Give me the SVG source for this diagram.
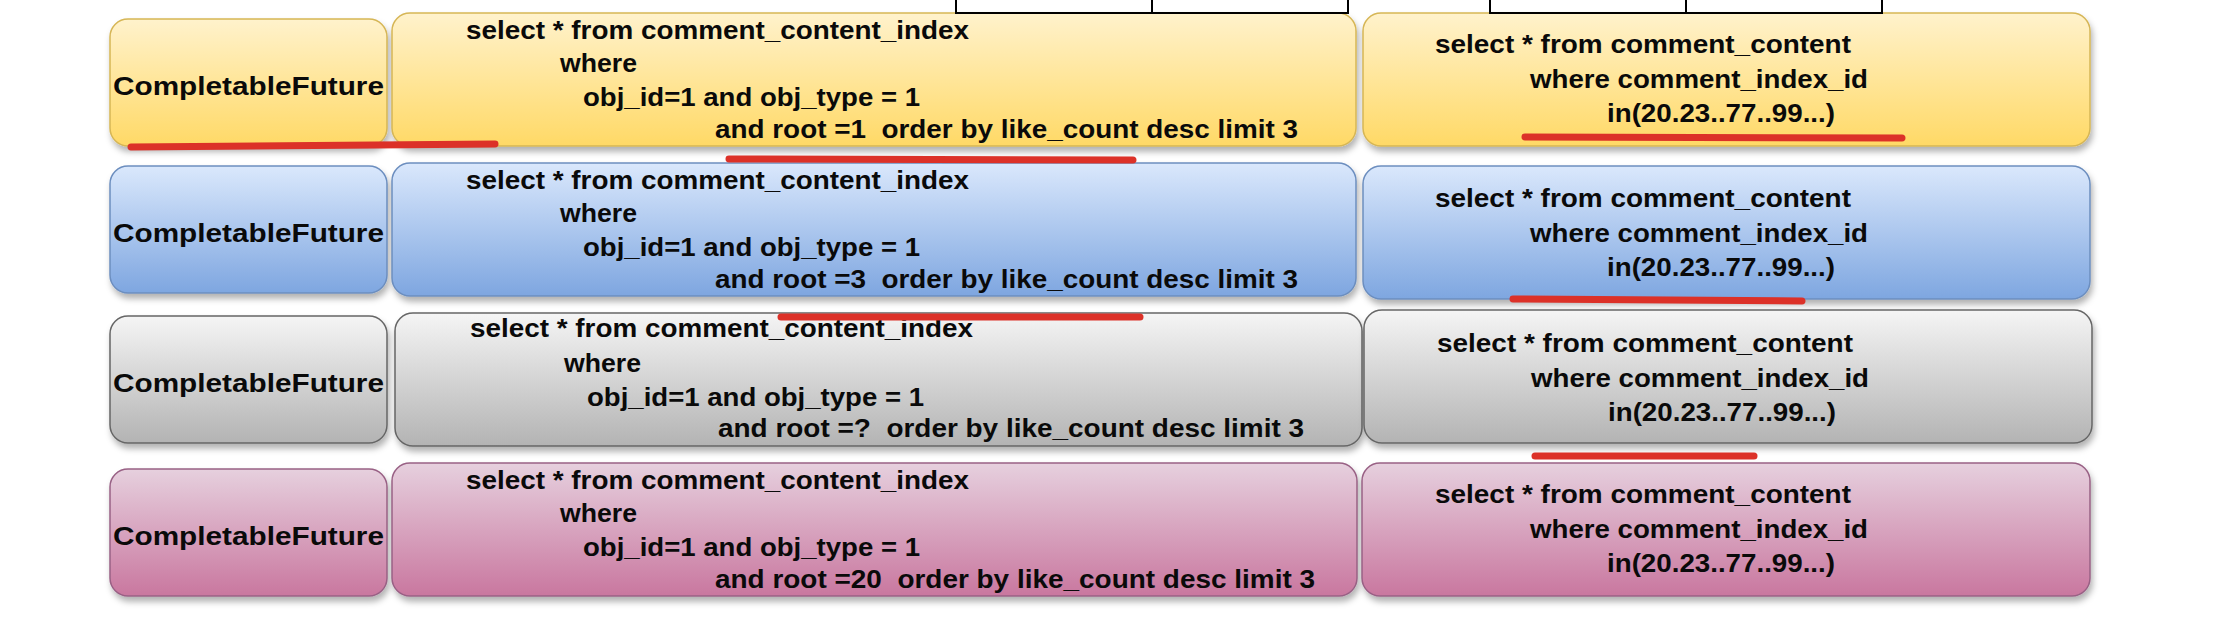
<svg xmlns="http://www.w3.org/2000/svg" width="2220" height="626" viewBox="0 0 2220 626">
<defs>
<linearGradient id="gY" x1="0" y1="0" x2="0" y2="1"><stop offset="0" stop-color="#fff2cc"/><stop offset="1" stop-color="#ffd966"/></linearGradient>
<linearGradient id="gB" x1="0" y1="0" x2="0" y2="1"><stop offset="0" stop-color="#dae8fc"/><stop offset="1" stop-color="#7ea6e0"/></linearGradient>
<linearGradient id="gG" x1="0" y1="0" x2="0" y2="1"><stop offset="0" stop-color="#f5f5f5"/><stop offset="1" stop-color="#b3b3b3"/></linearGradient>
<linearGradient id="gP" x1="0" y1="0" x2="0" y2="1"><stop offset="0" stop-color="#e6d0de"/><stop offset="1" stop-color="#c9779f"/></linearGradient>
<filter id="sh" x="-5%" y="-10%" width="110%" height="130%"><feDropShadow dx="2" dy="5" stdDeviation="3" flood-color="#000" flood-opacity="0.3"/></filter>
</defs>
<style>
.box{stroke-width:1.5;filter:url(#sh)}
.y{fill:url(#gY);stroke:#d6b656}
.b{fill:url(#gB);stroke:#6c8ebf}
.g{fill:url(#gG);stroke:#666666}
.p{fill:url(#gP);stroke:#996185}
text{font-family:"Liberation Sans",Arial,Helvetica,sans-serif;font-weight:bold;font-size:26px;fill:#0a0a0a}
.c{text-anchor:middle}
.tbl{stroke:#000;stroke-width:2;fill:none}
.mark{stroke:#dc3128;stroke-width:7;stroke-linecap:round;fill:none}
</style>
<rect width="2220" height="626" fill="#ffffff"/>

<!-- Row 1 -->
<g id="cf1"><rect class="box y" x="110" y="19" width="277" height="127" rx="18"/><text class="c" x="248.5" y="95" textLength="271" lengthAdjust="spacingAndGlyphs">CompletableFuture</text></g>
<g id="idx1"><rect class="box y" x="392" y="13" width="964" height="133" rx="18"/>
<text x="466" y="39" textLength="503" lengthAdjust="spacingAndGlyphs">select * from comment_content_index</text>
<text x="560" y="72" textLength="77" lengthAdjust="spacingAndGlyphs">where</text>
<text x="583" y="106" textLength="337" lengthAdjust="spacingAndGlyphs">obj_id=1 and obj_type = 1</text>
<text x="715" y="138" textLength="583" lengthAdjust="spacingAndGlyphs" xml:space="preserve">and root =1  order by like_count desc limit 3</text></g>
<g id="cnt1"><rect class="box y" x="1363" y="13" width="727" height="133" rx="18"/>
<text x="1435" y="53" textLength="416" lengthAdjust="spacingAndGlyphs">select * from comment_content</text>
<text x="1530" y="88" textLength="338" lengthAdjust="spacingAndGlyphs">where comment_index_id</text>
<text x="1607" y="122" textLength="228" lengthAdjust="spacingAndGlyphs">in(20.23..77..99...)</text></g>

<!-- Row 2 -->
<g id="cf2"><rect class="box b" x="110" y="166" width="277" height="127" rx="18"/><text class="c" x="248.5" y="242" textLength="271" lengthAdjust="spacingAndGlyphs">CompletableFuture</text></g>
<g id="idx2"><rect class="box b" x="392" y="163" width="964" height="133" rx="18"/>
<text x="466" y="189" textLength="503" lengthAdjust="spacingAndGlyphs">select * from comment_content_index</text>
<text x="560" y="222" textLength="77" lengthAdjust="spacingAndGlyphs">where</text>
<text x="583" y="256" textLength="337" lengthAdjust="spacingAndGlyphs">obj_id=1 and obj_type = 1</text>
<text x="715" y="288" textLength="583" lengthAdjust="spacingAndGlyphs" xml:space="preserve">and root =3  order by like_count desc limit 3</text></g>
<g id="cnt2"><rect class="box b" x="1363" y="166" width="727" height="133" rx="18"/>
<text x="1435" y="207" textLength="416" lengthAdjust="spacingAndGlyphs">select * from comment_content</text>
<text x="1530" y="242" textLength="338" lengthAdjust="spacingAndGlyphs">where comment_index_id</text>
<text x="1607" y="276" textLength="228" lengthAdjust="spacingAndGlyphs">in(20.23..77..99...)</text></g>

<!-- Row 3 -->
<g id="cf3"><rect class="box g" x="110" y="316" width="277" height="127" rx="18"/><text class="c" x="248.5" y="392" textLength="271" lengthAdjust="spacingAndGlyphs">CompletableFuture</text></g>
<g id="idx3"><rect class="box g" x="395" y="313" width="967" height="133" rx="18"/>
<text x="470" y="337" textLength="503" lengthAdjust="spacingAndGlyphs">select * from comment_content_index</text>
<text x="564" y="372" textLength="77" lengthAdjust="spacingAndGlyphs">where</text>
<text x="587" y="406" textLength="337" lengthAdjust="spacingAndGlyphs">obj_id=1 and obj_type = 1</text>
<text x="718" y="437" textLength="586" lengthAdjust="spacingAndGlyphs" xml:space="preserve">and root =?  order by like_count desc limit 3</text></g>
<g id="cnt3"><rect class="box g" x="1364" y="310" width="728" height="133" rx="18"/>
<text x="1437" y="352" textLength="416" lengthAdjust="spacingAndGlyphs">select * from comment_content</text>
<text x="1531" y="387" textLength="338" lengthAdjust="spacingAndGlyphs">where comment_index_id</text>
<text x="1608" y="421" textLength="228" lengthAdjust="spacingAndGlyphs">in(20.23..77..99...)</text></g>

<!-- Row 4 -->
<g id="cf4"><rect class="box p" x="110" y="469" width="277" height="127" rx="18"/><text class="c" x="248.5" y="545" textLength="271" lengthAdjust="spacingAndGlyphs">CompletableFuture</text></g>
<g id="idx4"><rect class="box p" x="392" y="463" width="965" height="133" rx="18"/>
<text x="466" y="489" textLength="503" lengthAdjust="spacingAndGlyphs">select * from comment_content_index</text>
<text x="560" y="522" textLength="77" lengthAdjust="spacingAndGlyphs">where</text>
<text x="583" y="556" textLength="337" lengthAdjust="spacingAndGlyphs">obj_id=1 and obj_type = 1</text>
<text x="715" y="588" textLength="600" lengthAdjust="spacingAndGlyphs" xml:space="preserve">and root =20  order by like_count desc limit 3</text></g>
<g id="cnt4"><rect class="box p" x="1362" y="463" width="728" height="133" rx="18"/>
<text x="1435" y="503" textLength="416" lengthAdjust="spacingAndGlyphs">select * from comment_content</text>
<text x="1530" y="538" textLength="338" lengthAdjust="spacingAndGlyphs">where comment_index_id</text>
<text x="1607" y="572" textLength="228" lengthAdjust="spacingAndGlyphs">in(20.23..77..99...)</text></g>

<!-- partial tables at top -->
<g id="tables">
<path class="tbl" d="M956 0V13H1348V0M1152 0V13"/>
<path class="tbl" d="M1490 0V13H1882V0M1686 0V13"/>
</g>

<g id="connectors">
<path class="mark" d="M131 147L495 144"/>
<path class="mark" d="M729 159L1133 160"/>
<path class="mark" d="M1525 137L1902 138"/>
<path class="mark" d="M781 317L1140 317"/>
<path class="mark" d="M1513 299L1802 301"/>
<path class="mark" d="M1535 456L1754 456"/>
</g>
</svg>
